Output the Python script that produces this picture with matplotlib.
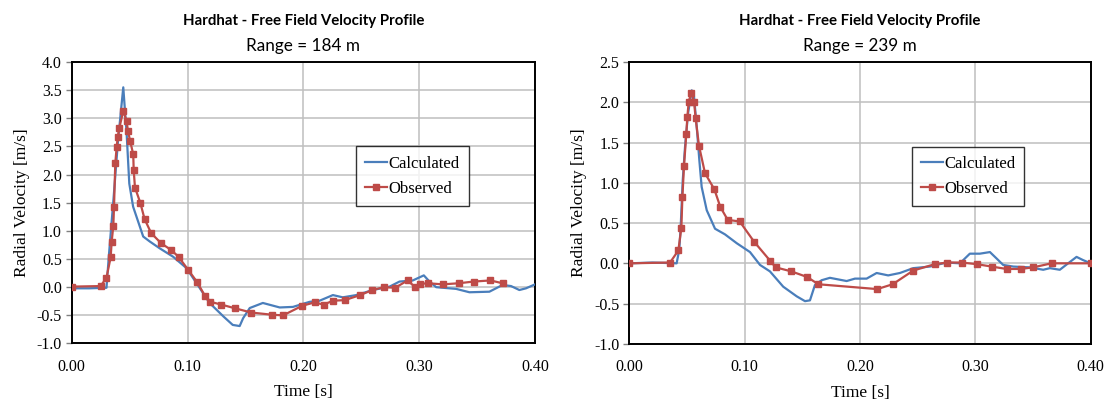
import matplotlib.pyplot as plt
import numpy as np

plt.rcParams['font.family'] = 'Liberation Serif'

# Range = 184 m
calc1_t = [0.000, 0.015, 0.030, 0.032, 0.036, 0.040, 0.0445, 0.0474, 0.0497, 0.053, 0.0617, 0.0675,
           0.076, 0.0876, 0.099, 0.1078, 0.119, 0.131, 0.139, 0.145, 0.148, 0.1537, 0.165, 0.1796,
           0.191, 0.2054, 0.214, 0.2255, 0.234, 0.2457, 0.26, 0.2744, 0.283, 0.2945, 0.304, 0.3089,
           0.3147, 0.3319, 0.3434, 0.3606, 0.372, 0.3793, 0.3865, 0.3922, 0.40]
calc1_v = [-0.02, -0.02, -0.01, 0.54, 1.55, 2.61, 3.55, 2.73, 1.84, 1.43, 0.90, 0.81,
           0.69, 0.54, 0.34, 0.07, -0.28, -0.52, -0.67, -0.69, -0.55, -0.37, -0.28, -0.36,
           -0.35, -0.26, -0.24, -0.14, -0.18, -0.14, -0.05, 0.01, 0.10, 0.12, 0.21, 0.10,
           0.00, -0.03, -0.09, -0.08, 0.04, 0.02, -0.05, -0.02, 0.05]

obs1_t = [0.0, 0.025, 0.030, 0.0336, 0.0345, 0.0359, 0.0365, 0.0376, 0.0388, 0.0397, 0.041, 0.0445,
          0.0474, 0.0485, 0.0505, 0.0531, 0.0535, 0.0546, 0.0592, 0.0629, 0.0686, 0.0772, 0.0859,
          0.0922, 0.1005, 0.1083, 0.1149, 0.1198, 0.1293, 0.141, 0.155, 0.1733, 0.1825, 0.199,
          0.2097, 0.2175, 0.2255, 0.2356, 0.2491, 0.2595, 0.2695, 0.2793, 0.29, 0.296, 0.3011,
          0.308, 0.3203, 0.3341, 0.347, 0.3615, 0.372]
obs1_v = [0.01, 0.02, 0.17, 0.53, 0.81, 1.09, 1.42, 2.20, 2.49, 2.66, 2.82, 3.13,
          2.95, 2.78, 2.59, 2.36, 2.08, 1.77, 1.50, 1.21, 0.96, 0.78, 0.66,
          0.54, 0.31, 0.09, -0.15, -0.26, -0.31, -0.375, -0.45, -0.49, -0.50, -0.33,
          -0.27, -0.31, -0.24, -0.23, -0.14, -0.05, 0.00, -0.01, 0.12, 0.01, 0.06,
          0.07, 0.05, 0.07, 0.10, 0.12, 0.07]

# Range = 239 m
calc2_t = [0.0, 0.02, 0.041, 0.0433, 0.0445, 0.0463, 0.0483, 0.0509, 0.0541, 0.0561, 0.0584, 0.0607,
           0.0627, 0.0671, 0.0743, 0.0829, 0.0931, 0.1046, 0.1133, 0.1219, 0.1334, 0.1451, 0.1523,
           0.1566, 0.1609, 0.1667, 0.1739, 0.1884, 0.1956, 0.2057, 0.2144, 0.2244, 0.2346, 0.2461,
           0.2606, 0.275, 0.2866, 0.2952, 0.3039, 0.3126, 0.3184, 0.3241, 0.3328, 0.3472, 0.3588,
           0.3646, 0.3732, 0.3804, 0.3877, 0.3934, 0.40]
calc2_v = [0.0, 0.01, 0.0, 0.17, 0.45, 1.03, 1.45, 1.86, 2.15, 2.07, 1.70, 1.28,
           0.95, 0.66, 0.43, 0.36, 0.25, 0.14, -0.02, -0.10, -0.29, -0.41, -0.47,
           -0.46, -0.27, -0.21, -0.18, -0.22, -0.19, -0.19, -0.12, -0.15, -0.12, -0.06,
           -0.04, 0.01, 0.0, 0.12, 0.12, 0.14, 0.06, -0.02, -0.04, -0.05, -0.08,
           -0.06, -0.08, 0.0, 0.08, 0.04, 0.0]

obs2_t = [0.0, 0.0353, 0.0425, 0.0451, 0.046, 0.0474, 0.0494, 0.0503, 0.0515, 0.0537, 0.0561, 0.0575,
          0.0604, 0.0656, 0.0737, 0.0789, 0.0853, 0.0957, 0.1081, 0.1222, 0.1269, 0.1404, 0.1542,
          0.1638, 0.2149, 0.2283, 0.2461, 0.2649, 0.2756, 0.2880, 0.301, 0.314, 0.327, 0.3392,
          0.3501, 0.366, 0.40]
obs2_v = [0.0, 0.01, 0.16, 0.44, 0.82, 1.21, 1.61, 1.82, 2.01, 2.12, 2.01, 1.80,
          1.46, 1.12, 0.92, 0.70, 0.54, 0.52, 0.27, 0.03, -0.05, -0.10, -0.17,
          -0.26, -0.32, -0.26, -0.09, -0.01, 0.01, 0.01, -0.01, -0.04, -0.07, -0.07,
          -0.05, 0.0, 0.0]

blue = '#4A7EBB'
red = '#BE4B48'

fig = plt.figure(figsize=(11.07, 4.01), dpi=100)
ax1 = fig.add_axes([0.0648, 0.1434, 0.4185, 0.702])
ax2 = fig.add_axes([0.5685, 0.1426, 0.4168, 0.7025])

panels = [(ax1, calc1_t, calc1_v, obs1_t, obs1_v, 184, (-1.0, 4.0), (0.614, 0.70)),
          (ax2, calc2_t, calc2_v, obs2_t, obs2_v, 239, (-1.0, 2.5), (0.612, 0.70))]

for ax, ct, cv, ot, ov, rng, ylim, legpos in panels:
    ax.plot(ct, cv, color=blue, lw=1.6, label='Calculated', zorder=3)
    ax.plot(ot, ov, color=red, lw=1.6, marker='s', ms=4, label='Observed', zorder=4)
    ax.set_xlim(0, 0.40)
    ax.set_ylim(*ylim)
    ax.set_xticks(np.arange(0, 0.41, 0.10))
    ax.set_yticks(np.arange(ylim[0], ylim[1] + 0.01, 0.5))
    ax.xaxis.set_major_formatter(plt.FormatStrFormatter('%.2f'))
    ax.yaxis.set_major_formatter(plt.FormatStrFormatter('%.1f'))
    ax.grid(True, color='#BFBFBF', lw=1.1)
    ax.set_axisbelow(True)
    for s in ax.spines.values():
        s.set_linewidth(1.4)
        s.set_color('black')
    ax.tick_params(axis='x', length=0, pad=11, labelsize=11.5)
    ax.tick_params(axis='y', length=4, width=1, direction='out', pad=3, color='#808080',
                   labelsize=11.5)
    ax.set_xlabel('Time [s]', fontsize=12.5, labelpad=7)
    ax.set_ylabel('Radial Velocity [m/s]', fontsize=12.5, labelpad=5)
    ax.text(0.5, 1.147, 'Hardhat - Free Field Velocity Profile', transform=ax.transAxes,
            ha='center', va='center', family='Lato', fontweight='bold', fontsize=10.8)
    ax.text(0.5, 1.057, 'Range = %d m' % rng, transform=ax.transAxes,
            ha='center', va='center', family='Lato', fontsize=12.3)
    leg = ax.legend(loc='upper left', bbox_to_anchor=legpos, frameon=True, fancybox=False,
                    edgecolor='black', prop={'size': 12},
                    handlelength=1.3, handletextpad=0.1, borderpad=0.55, labelspacing=0.55,
                    borderaxespad=0)
    leg.get_frame().set_linewidth(1.0)

fig.savefig('out.png', dpi=100)
